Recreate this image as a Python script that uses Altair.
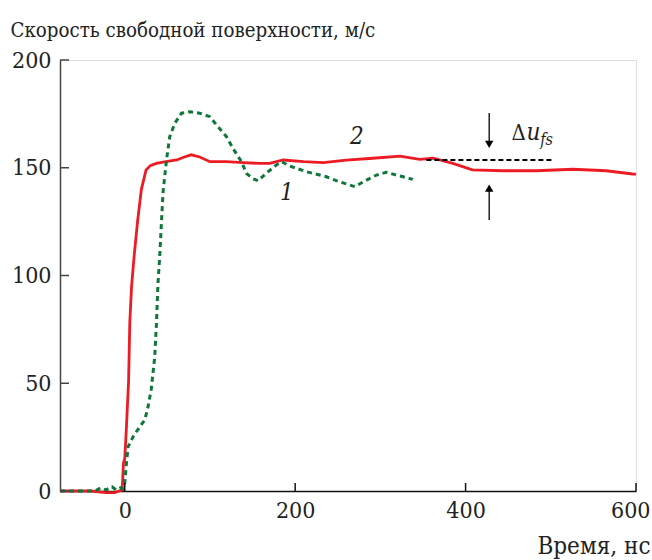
import altair as alt
import pandas as pd

# Curve 2 (solid red): free-surface velocity vs time
red_t = [-76, -40, -22, -12, -3, -1.5, 0, 2, 4.5, 5.9, 8, 11, 15, 19.5, 25, 30, 37, 50,
         61, 70, 78, 88, 100, 119, 139, 158, 170, 186, 210, 233, 260, 291, 323, 346,
         362, 385, 408, 444, 483, 526, 565, 596, 600]
red_v = [0, 0, -0.8, -0.8, 0.5, 13, 15, 30, 51, 78, 95, 109, 125, 140, 149, 151, 152, 153,
         153.6, 155, 156, 155, 152.8, 152.8, 152.4, 152, 152, 153.6, 152.8, 152.4, 153.5,
         154.4, 155.4, 153.9, 154.4, 152, 149, 148.6, 148.6, 149.3, 148.6, 147.1, 147]

# Curve 1 (dashed green)
green_t = [-76, -35, -28, -22, -15, -10, -5, -2, 0, 2, 4, 9.8, 17.6, 23.5, 27.3, 31, 35.2,
           37.2, 39, 41, 43, 45, 49, 52.8, 58.7, 66.5, 76.3, 88, 99.8, 109.5, 119.4, 127,
           137, 142.8, 150, 156.5, 166, 178, 184, 193.7, 213, 236.7, 252, 270, 283.7,
           295.4, 307, 319, 326.7, 338]
green_v = [0, 0, 1.5, 0.5, 2, 0.5, 1.5, 1, 3.7, 13, 20.6, 25.2, 29.8, 33, 39, 47, 62.3,
           77.8, 96.4, 108.7, 124.2, 139, 153.6, 164.4, 170.6, 175.3, 176, 175.3, 173.7,
           169, 164.4, 159, 152.8, 147.4, 145, 144, 147.4, 151.3, 152.8, 150.8, 148.2,
           145.8, 143.5, 141.2, 144.3, 146.6, 147.9, 146.6, 145.8, 144.6]

x_ticks = [0, 200, 400, 600]
y_ticks = [0, 50, 100, 150, 200]

W, H = 576, 431
FONT = "DejaVu Serif Condensed"
RED = "#ec1c24"
GREEN = "#10773a"

red = pd.DataFrame({"t": red_t, "v": red_v})
green = pd.DataFrame({"t": green_t, "v": green_v})

xs = alt.Scale(domain=[-76, 600], nice=False, zero=False)
ys = alt.Scale(domain=[0, 200], nice=False)

x_axis = alt.Axis(values=x_ticks, ticks=False, grid=False, labelPadding=8,
                  labelFontSize=23, labelFont=FONT, labelColor="#222",
                  domainColor="#111", domainWidth=1.5,
                  labelFlush=True, labelFlushOffset=14,
                  title="Время, нс", titleFont=FONT, titleFontSize=24,
                  titleFontWeight="normal", titleColor="#222",
                  titleAnchor="end", titleAlign="right", titleBaseline="alphabetic",
                  titleX=590, titleY=62)
y_axis = alt.Axis(values=y_ticks, ticks=False, grid=False, labelPadding=9,
                  labelFontSize=23, labelFont=FONT, labelColor="#222",
                  domainColor="#444", domainWidth=1.5,
                  title="Скорость свободной поверхности, м/с", titleFont=FONT,
                  titleFontSize=20.3, titleFontWeight="normal", titleColor="#222",
                  titleAngle=0, titleAlign="left", titleBaseline="alphabetic",
                  titleX=-50, titleY=-24, labelFlush=False)

base_x = alt.X("t:Q", scale=xs, axis=x_axis)
base_y = alt.Y("v:Q", scale=ys, axis=y_axis)

red_line = alt.Chart(red).mark_line(color=RED, strokeWidth=2.8).encode(x=base_x, y=base_y)
green_line = alt.Chart(green).mark_line(color=GREEN, strokeWidth=3, strokeDash=[5, 4]).encode(
    x=alt.X("t:Q", scale=xs), y=alt.Y("v:Q", scale=ys))

# inward tick marks
xt = alt.Chart(pd.DataFrame({"t": x_ticks})).mark_rule(color="#111", strokeWidth=1.5).encode(
    x=alt.X("t:Q", scale=xs), y=alt.value(H), y2=alt.value(H - 8))
yt = alt.Chart(pd.DataFrame({"v": y_ticks})).mark_rule(color="#444", strokeWidth=1.5).encode(
    y=alt.Y("v:Q", scale=ys), x=alt.value(0), x2=alt.value(9))

# reference level and Δu_fs arrows
ref = alt.Chart(pd.DataFrame({"t": [354], "t2": [503], "v": [153.6]})).mark_rule(
    color="black", strokeWidth=2, strokeDash=[5, 3]).encode(
    x=alt.X("t:Q", scale=xs), x2="t2:Q", y=alt.Y("v:Q", scale=ys))
shafts = alt.Chart(pd.DataFrame({"t": [427.7, 427.7], "a": [175.4, 125.8], "b": [160.5, 141]})).mark_rule(
    color="black", strokeWidth=1.3).encode(
    x=alt.X("t:Q", scale=xs), y=alt.Y("a:Q", scale=ys), y2="b:Q")
heads = alt.Chart(pd.DataFrame({"t": [427.7, 427.7], "v": [160.8, 140.6],
                                "s": ["triangle-down", "triangle-up"]})).mark_point(
    filled=True, color="black", size=70, opacity=1).encode(
    x=alt.X("t:Q", scale=xs), y=alt.Y("v:Q", scale=ys),
    shape=alt.Shape("s:N", scale=None, legend=None))

labels = alt.Chart(pd.DataFrame({"t": [272.4, 190.2], "v": [164.3, 138.3], "txt": ["2", "1"]})).mark_text(
    font=FONT, fontSize=24, fontStyle="italic", color="#222", baseline="middle").encode(
    x=alt.X("t:Q", scale=xs), y=alt.Y("v:Q", scale=ys), text="txt:N")
delta = alt.Chart(pd.DataFrame({"t": [454], "v": [162.9]})).mark_text(
    font=FONT, fontSize=22, color="#222", align="left", baseline="alphabetic", text="Δ").encode(
    x=alt.X("t:Q", scale=xs), y=alt.Y("v:Q", scale=ys))
u = alt.Chart(pd.DataFrame({"t": [471.5], "v": [162.9]})).mark_text(
    font=FONT, fontSize=24, fontStyle="italic", color="#222", align="left",
    baseline="alphabetic", text="u").encode(
    x=alt.X("t:Q", scale=xs), y=alt.Y("v:Q", scale=ys))
fs = alt.Chart(pd.DataFrame({"t": [487.5], "v": [160.5]})).mark_text(
    font=FONT, fontSize=16, fontStyle="italic", color="#222", align="left",
    baseline="alphabetic", text="fs").encode(
    x=alt.X("t:Q", scale=xs), y=alt.Y("v:Q", scale=ys))

chart = alt.layer(red_line, green_line, xt, yt, ref, shafts, heads, labels, delta, u, fs).properties(
    width=W, height=H,
    autosize=alt.AutoSizeParams(type="none"),
    padding={"left": 60, "top": 60, "right": 16, "bottom": 69},
).configure_view(stroke=None).configure(background="white")

chart.save("out.html", embed_options={"renderer": "svg", "actions": False})
